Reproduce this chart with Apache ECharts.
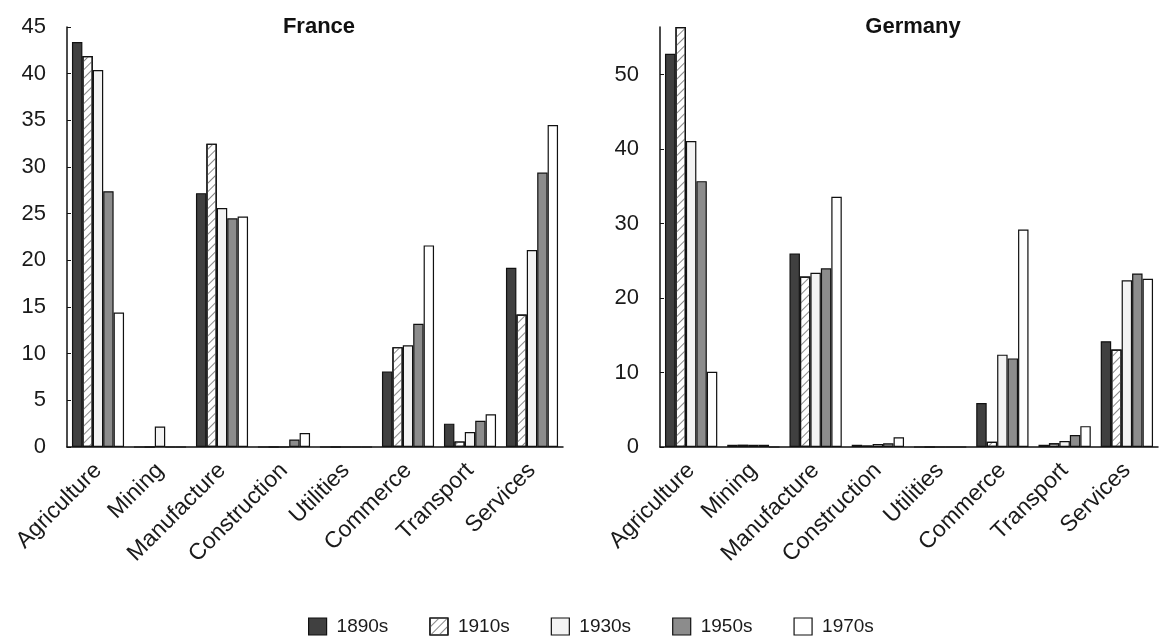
<!DOCTYPE html>
<html>
<head>
<meta charset="utf-8">
<script src="https://cdn.jsdelivr.net/npm/echarts@6/dist/echarts.min.js"></script>
<style>
html,body{margin:0;padding:0;background:#fff;}
#chart{width:1165px;height:640px;}
</style>
</head>
<body>
<div id="chart"></div>
<script>
const categories = ['Agriculture','Mining','Manufacture','Construction','Utilities','Commerce','Transport','Services'];
const decades = ['1890s','1910s','1930s','1950s','1970s'];

const france1890 = [43.4, 0, 27.2, 0, 0, 8.1, 2.5, 19.2];
const france1910 = [41.9, 0, 32.5, 0, 0, 10.7, 0.6, 14.2];
const france1930 = [40.4, 2.2, 25.6, 0, 0, 10.9, 1.6, 21.1];
const france1950 = [27.4, 0, 24.5, 0.8, 0, 13.2, 2.8, 29.4];
const france1970 = [14.4, 0, 24.7, 1.5, 0, 21.6, 3.5, 34.5];

const germany1890 = [52.8, 0.3, 26.0, 0.3, 0, 5.9, 0.3, 14.2];
const germany1910 = [56.4, 0.3, 22.9, 0.2, 0, 0.7, 0.5, 13.1];
const germany1930 = [41.1, 0.3, 23.4, 0.4, 0, 12.4, 0.8, 22.4];
const germany1950 = [35.7, 0.3, 24.0, 0.5, 0, 11.9, 1.6, 23.3];
const germany1970 = [10.1, 0, 33.6, 1.3, 0, 29.2, 2.8, 22.6];

const franceSeries = [france1890, france1910, france1930, france1950, france1970];
const germanySeries = [germany1890, germany1910, germany1930, germany1950, germany1970];

const FONT = "'Liberation Sans', Arial, sans-serif";
const styles = [
  {color:'#404040', borderColor:'#111', borderWidth:1.2},
  {color:'#ffffff', borderColor:'#111', borderWidth:1.2,
   decal:{symbol:'rect', symbolSize:1, dashArrayX:[1,0], dashArrayY:[1,5], rotation:-Math.PI/4, color:'#888'}},
  {color:'#f3f3f3', borderColor:'#111', borderWidth:1.2},
  {color:'#8c8c8c', borderColor:'#111', borderWidth:1.2},
  {color:'#ffffff', borderColor:'#111', borderWidth:1.2}
];

function xAxis(gi){
  return {
    type:'category', gridIndex:gi, data:categories,
    axisLine:{lineStyle:{color:'#111', width:1.5}},
    axisTick:{inside:true, length:5, lineStyle:{color:'#111'}},
    axisLabel:{rotate:45, margin:20, fontSize:23, color:'#1a1a1a', fontFamily:FONT, interval:0}
  };
}
function yAxis(gi, max, interval){
  return {
    type:'value', gridIndex:gi, min:0, max:max, interval:interval,
    splitLine:{show:false},
    axisLine:{show:true, lineStyle:{color:'#111', width:1.5}},
    axisTick:{show:true, inside:true, length:4, lineStyle:{color:'#111'}},
    axisLabel:{fontSize:22, color:'#1a1a1a', fontFamily:FONT, margin:21, showMaxLabel: gi===0}
  };
}

const series = [];
decades.forEach((d,i)=>{
  series.push({name:d, type:'bar', xAxisIndex:0, yAxisIndex:0, data:franceSeries[i],
    barGap:'0%', barCategoryGap:'16%', itemStyle:styles[i], emphasis:{disabled:true}});
});
decades.forEach((d,i)=>{
  series.push({name:d, type:'bar', xAxisIndex:1, yAxisIndex:1, data:germanySeries[i],
    barGap:'0%', barCategoryGap:'16%', itemStyle:styles[i], emphasis:{disabled:true}});
});

const chart = echarts.init(document.getElementById('chart'));
chart.setOption({
  animation:false,
  backgroundColor:'#fff',
  title:[
    {text:'France', left:314, top:11, textAlign:'center', textStyle:{fontSize:22, fontWeight:'bold', color:'#111', fontFamily:FONT}},
    {text:'Germany', left:908, top:11, textAlign:'center', textStyle:{fontSize:22, fontWeight:'bold', color:'#111', fontFamily:FONT}}
  ],
  legend:{
    data:decades, top:612, left:303, itemWidth:18, itemHeight:17, itemGap:41,
    icon:'rect',
    textStyle:{fontSize:19, color:'#1a1a1a', fontFamily:FONT, padding:[0,0,0,5]},
    itemStyle:{borderColor:'#111', borderWidth:1.2}
  },
  grid:[
    {left:67, right:602, top:27, bottom:193},
    {left:660, right:7, top:27, bottom:193}
  ],
  xAxis:[xAxis(0), xAxis(1)],
  yAxis:[yAxis(0,45,5), yAxis(1,56.4,10)],
  series:series
});
</script>
</body>
</html>
